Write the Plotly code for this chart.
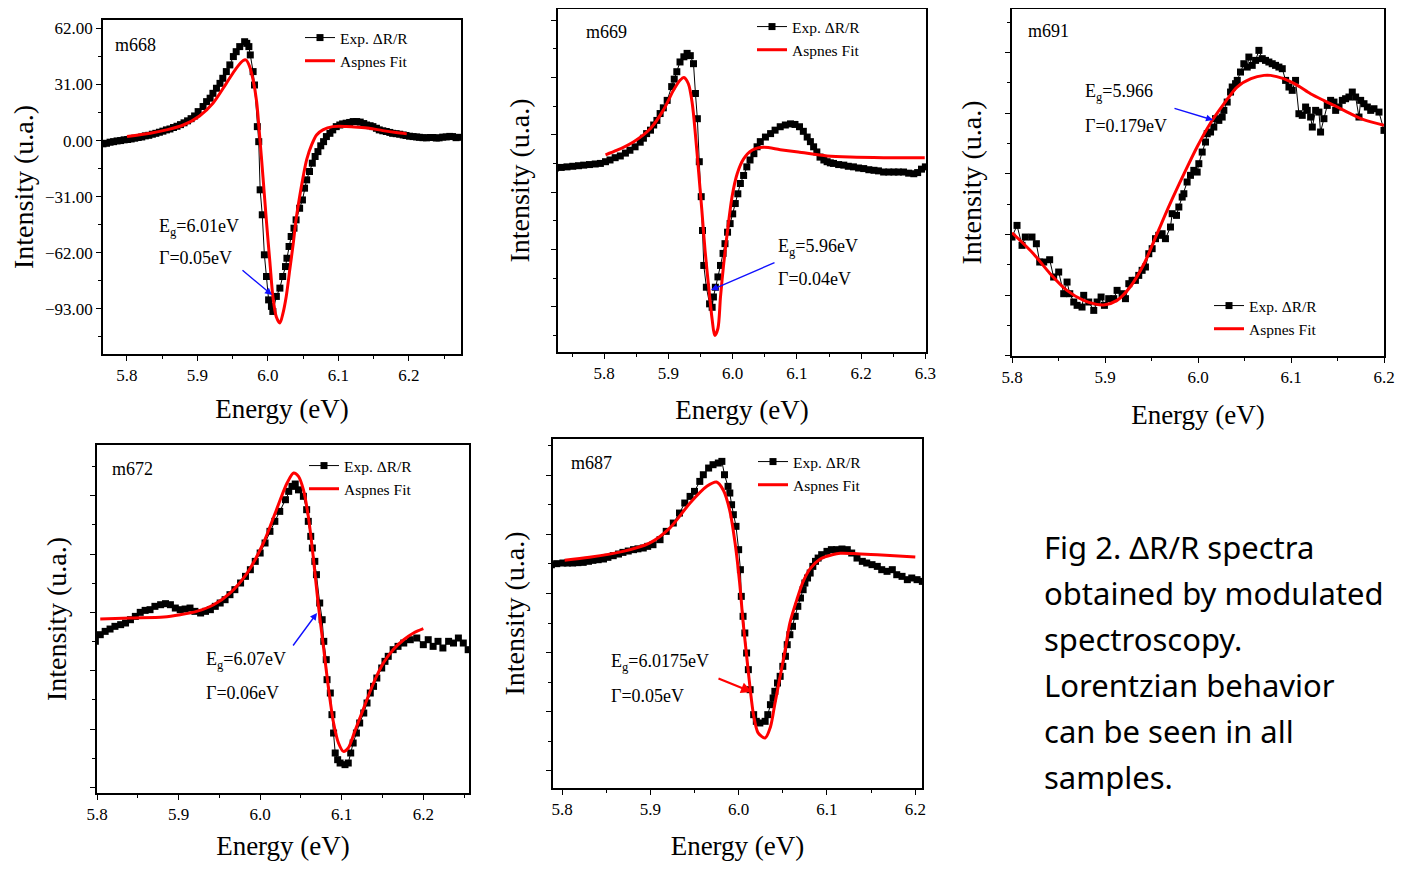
import plotly.graph_objects as go

# page has an 8px body margin: the figure is drawn 8px in from the window edge
PAGE_OFF = 8
WIN_W, WIN_H = 1413, 869
W, H = WIN_W - 2 * PAGE_OFF, WIN_H - 2 * PAGE_OFF

# ---------------- data ----------------
# m668
m668_exp_x = [5.766,5.771,5.776,5.781,5.786,5.791,5.796,5.801,5.806,5.811,5.816,5.821,5.826,5.831,5.836,5.841,5.846,5.851,5.856,5.861,5.866,5.871,5.876,5.881,5.886,5.891,5.896,5.901,5.908,5.913,5.918,5.922,5.927,5.932,5.936,5.941,5.946,5.951,5.955,5.960,5.967,5.970,5.973,5.975,5.979,5.981,5.985,5.987,5.989,5.992,5.995,5.998,6.001,6.005,6.007,6.012,6.017,6.021,6.025,6.027,6.030,6.033,6.037,6.040,6.045,6.049,6.052,6.055,6.059,6.063,6.067,6.071,6.075,6.079,6.083,6.088,6.092,6.097,6.102,6.106,6.111,6.116,6.121,6.126,6.131,6.136,6.140,6.145,6.149,6.154,6.158,6.163,6.168,6.173,6.177,6.182,6.187,6.192,6.196,6.201,6.206,6.211,6.215,6.220,6.225,6.230,6.234,6.239,6.243,6.248,6.253,6.258,6.262,6.267,6.272]
m668_exp_y = [-1.8,-1.5,-0.9,-0.6,-0.2,0.0,0.4,0.6,0.9,1.3,1.7,2.0,2.6,2.9,3.5,4.0,4.6,5.2,5.9,6.4,7.2,7.9,8.8,9.8,10.9,12.1,13.6,16.0,18.8,21.5,23.4,26.1,28.9,31.6,34.4,38.1,41.8,46.4,49.1,51.9,54.6,53.7,51.9,47.3,38.1,30.7,7.7,-0.6,-27.2,-41.0,-63.1,-75.1,-88.0,-91.6,-94.4,-86.1,-81.5,-75.1,-69.6,-65.0,-58.5,-53.0,-48.4,-43.8,-37.4,-32.8,-26.3,-21.7,-17.1,-12.5,-8.8,-6.1,-2.9,-0.6,2.2,4.0,5.9,7.7,8.6,9.2,9.6,10.0,10.5,10.5,10.2,9.4,8.6,8.2,7.7,6.8,5.9,5.4,5.0,4.5,4.0,3.8,3.5,3.1,2.8,2.4,2.2,2.0,1.8,1.6,1.5,1.7,1.7,1.4,1.5,1.9,2.0,2.3,2.2,1.6,1.8]
m668_fit_x = [5.800,5.833,5.856,5.880,5.903,5.922,5.941,5.955,5.965,5.969,5.974,5.979,5.984,5.988,5.993,5.998,6.003,6.007,6.012,6.017,6.021,6.026,6.031,6.036,6.040,6.045,6.050,6.055,6.062,6.069,6.078,6.092,6.111,6.128,6.144,6.163,6.182,6.197]
m668_fit_y = [2.2,4.0,5.9,8.6,13.6,20.6,31.6,39.9,44.2,44.5,41.0,33.5,21.5,4.0,-20.0,-45.0,-68.0,-86.0,-97.5,-100.8,-96.0,-86.1,-71.4,-56.7,-43.5,-31.0,-20.0,-10.5,-2.4,3.1,5.9,7.7,7.8,7.4,6.8,5.5,4.4,3.7]

# m669
m669_exp_x = [5.724,5.733,5.742,5.751,5.760,5.768,5.777,5.786,5.794,5.802,5.809,5.817,5.825,5.833,5.840,5.848,5.856,5.861,5.866,5.872,5.877,5.882,5.887,5.892,5.898,5.905,5.909,5.913,5.918,5.924,5.929,5.934,5.939,5.942,5.945,5.948,5.951,5.953,5.955,5.959,5.964,5.968,5.970,5.973,5.977,5.981,5.985,5.988,5.992,5.996,6.000,6.004,6.008,6.012,6.017,6.022,6.027,6.033,6.038,6.043,6.051,6.059,6.066,6.074,6.082,6.090,6.097,6.104,6.110,6.116,6.121,6.126,6.131,6.136,6.142,6.147,6.152,6.157,6.165,6.173,6.180,6.188,6.196,6.204,6.212,6.220,6.227,6.235,6.243,6.251,6.258,6.266,6.274,6.282,6.288,6.294,6.300]
m669_exp_y = [2.42,2.43,2.44,2.45,2.46,2.47,2.48,2.49,2.50,2.53,2.56,2.60,2.63,2.68,2.73,2.79,2.87,2.94,3.02,3.08,3.17,3.25,3.37,3.47,3.60,3.84,3.97,4.10,4.27,4.36,4.42,4.38,4.24,3.72,3.28,2.53,1.92,1.33,0.72,0.34,0.05,-0.01,0.17,0.34,0.52,0.72,0.93,1.10,1.30,1.45,1.62,1.80,1.97,2.15,2.29,2.44,2.56,2.67,2.79,2.88,2.96,3.02,3.08,3.14,3.17,3.19,3.18,3.14,3.06,2.96,2.88,2.79,2.70,2.61,2.56,2.53,2.51,2.50,2.48,2.47,2.45,2.44,2.42,2.41,2.39,2.38,2.37,2.35,2.35,2.35,2.35,2.35,2.33,2.32,2.34,2.40,2.44]
m669_fit_x = [5.802,5.820,5.846,5.872,5.892,5.908,5.918,5.924,5.931,5.937,5.942,5.947,5.952,5.957,5.963,5.968,5.972,5.977,5.981,5.986,5.992,5.999,6.007,6.017,6.030,6.048,6.074,6.102,6.147,6.183,6.235,6.299]
m669_fit_y = [2.65,2.73,2.88,3.11,3.43,3.78,3.95,4.00,3.89,3.55,3.00,2.35,1.68,0.98,0.30,-0.22,-0.50,-0.38,0.17,0.75,1.33,1.92,2.32,2.58,2.73,2.78,2.74,2.70,2.63,2.61,2.60,2.60]

# m691
m691_exp_x = [5.8000,5.8054,5.8108,5.8143,5.8215,5.8262,5.8298,5.8341,5.8405,5.8448,5.8502,5.8556,5.8592,5.8621,5.8664,5.8700,5.8753,5.8771,5.8825,5.8879,5.8915,5.8958,5.8994,5.9040,5.9094,5.9130,5.9184,5.9220,5.9256,5.9291,5.9327,5.9363,5.9399,5.9435,5.9471,5.9507,5.9543,5.9578,5.9614,5.9650,5.9704,5.9722,5.9769,5.9794,5.9830,5.9848,5.9883,5.9919,5.9955,5.9991,6.0009,6.0045,6.0081,6.0099,6.0135,6.0170,6.0188,6.0224,6.0260,6.0278,6.0314,6.0350,6.0368,6.0404,6.0422,6.0457,6.0493,6.0529,6.0547,6.0583,6.0619,6.0655,6.0691,6.0726,6.0762,6.0798,6.0834,6.0870,6.0906,6.0942,6.0978,6.1013,6.1049,6.1085,6.1121,6.1157,6.1175,6.1211,6.1229,6.1265,6.1300,6.1318,6.1354,6.1390,6.1426,6.1462,6.1480,6.1516,6.1552,6.1587,6.1623,6.1659,6.1695,6.1731,6.1749,6.1785,6.1821,6.1857,6.1892,6.1946,6.2000]
m691_exp_y = [0.956,1.148,0.819,0.956,0.956,0.846,0.544,0.544,0.582,0.297,0.379,0.022,0.214,0.022,-0.115,-0.170,-0.198,-0.005,-0.115,-0.253,-0.115,-0.033,-0.170,-0.060,-0.060,0.077,0.022,-0.060,0.187,0.242,0.242,0.324,0.407,0.462,0.681,0.764,0.929,0.984,1.011,0.929,1.121,1.341,1.313,1.451,1.615,1.670,1.863,1.973,2.055,2.027,2.165,2.357,2.522,2.659,2.687,2.769,2.907,2.879,2.934,3.044,3.181,3.346,3.429,3.484,3.538,3.676,3.813,3.758,3.923,3.786,3.868,4.033,3.896,3.868,3.841,3.813,3.786,3.758,3.731,3.538,3.429,3.374,3.538,2.989,2.962,3.099,3.044,2.934,2.769,3.044,3.016,2.687,2.907,3.126,3.209,3.181,3.044,3.099,3.209,3.236,3.264,3.346,3.264,2.934,3.209,3.154,3.099,3.044,3.071,3.016,2.714]
m691_fit_x = [5.800,5.823,5.841,5.859,5.877,5.891,5.900,5.913,5.927,5.942,5.956,5.970,5.985,5.999,6.013,6.028,6.042,6.057,6.071,6.078,6.092,6.107,6.121,6.135,6.150,6.164,6.178,6.200]
m691_fit_y = [1.027,0.681,0.352,0.077,-0.088,-0.154,-0.159,-0.088,0.132,0.516,1.011,1.505,2.000,2.440,2.824,3.154,3.429,3.566,3.621,3.621,3.566,3.456,3.319,3.209,3.099,2.989,2.890,2.797]

# m672
m672_exp_x = [5.798,5.804,5.810,5.816,5.822,5.829,5.835,5.841,5.847,5.853,5.859,5.865,5.871,5.878,5.884,5.890,5.896,5.902,5.908,5.914,5.920,5.927,5.933,5.939,5.945,5.951,5.957,5.963,5.969,5.976,5.982,5.988,5.994,6.000,6.006,6.012,6.018,6.024,6.031,6.035,6.039,6.043,6.047,6.053,6.057,6.059,6.062,6.064,6.067,6.069,6.073,6.076,6.078,6.081,6.082,6.086,6.088,6.090,6.092,6.095,6.098,6.104,6.108,6.111,6.114,6.118,6.122,6.127,6.131,6.135,6.139,6.143,6.149,6.153,6.157,6.163,6.169,6.176,6.184,6.192,6.200,6.206,6.212,6.218,6.224,6.231,6.237,6.243,6.249,6.255]
m672_exp_y = [2.503,2.617,2.674,2.714,2.760,2.789,2.817,2.874,2.931,3.000,3.034,3.046,3.103,3.131,3.149,3.131,3.074,3.046,3.057,3.074,3.017,2.989,3.017,3.046,3.103,3.160,3.217,3.303,3.389,3.503,3.617,3.731,3.874,4.017,4.189,4.389,4.560,4.731,4.931,5.074,5.160,5.200,5.100,4.989,4.760,4.560,4.303,4.103,3.874,3.646,3.160,2.874,2.503,2.189,1.846,1.617,1.246,0.931,0.589,0.474,0.417,0.389,0.417,0.589,0.760,0.931,1.103,1.274,1.446,1.617,1.731,1.874,2.046,2.160,2.246,2.360,2.417,2.474,2.531,2.560,2.446,2.531,2.417,2.503,2.389,2.503,2.474,2.560,2.474,2.360]
m672_fit_x = [5.804,5.841,5.882,5.902,5.922,5.943,5.963,5.984,6.004,6.020,6.033,6.041,6.047,6.053,6.059,6.065,6.071,6.078,6.084,6.090,6.096,6.102,6.108,6.116,6.127,6.139,6.151,6.163,6.176,6.188,6.200]
m672_fit_y = [2.886,2.903,2.920,2.960,3.017,3.131,3.331,3.674,4.189,4.760,5.217,5.389,5.331,5.103,4.646,3.960,3.160,2.360,1.674,1.103,0.760,0.617,0.674,0.960,1.360,1.789,2.131,2.360,2.531,2.646,2.720]

# m687
m687_exp_x = [5.788,5.794,5.801,5.806,5.812,5.818,5.824,5.830,5.835,5.841,5.847,5.852,5.858,5.864,5.869,5.875,5.881,5.886,5.892,5.897,5.903,5.911,5.918,5.926,5.933,5.939,5.945,5.950,5.956,5.960,5.966,5.971,5.977,5.981,5.984,5.988,5.990,5.992,5.994,5.997,6.000,6.002,6.003,6.005,6.007,6.009,6.011,6.013,6.017,6.020,6.024,6.030,6.033,6.036,6.039,6.041,6.044,6.047,6.050,6.053,6.055,6.058,6.061,6.064,6.067,6.070,6.073,6.075,6.078,6.081,6.084,6.087,6.090,6.094,6.100,6.105,6.111,6.117,6.123,6.128,6.134,6.140,6.145,6.151,6.157,6.162,6.168,6.174,6.179,6.185,6.191,6.196,6.202,6.208]
m687_exp_y = [3.488,3.505,3.516,3.516,3.516,3.522,3.527,3.545,3.561,3.572,3.584,3.612,3.640,3.668,3.696,3.719,3.742,3.756,3.770,3.798,3.826,3.911,4.052,4.193,4.362,4.532,4.644,4.729,4.898,5.011,5.124,5.181,5.209,5.237,5.011,4.814,4.701,4.503,4.334,4.137,3.742,3.403,2.951,2.613,2.331,1.992,1.710,1.371,0.948,0.835,0.807,0.835,0.948,1.117,1.230,1.343,1.484,1.597,1.766,1.936,2.133,2.302,2.444,2.613,2.782,2.923,3.064,3.177,3.262,3.346,3.459,3.544,3.600,3.657,3.713,3.742,3.742,3.753,3.742,3.685,3.600,3.544,3.516,3.488,3.459,3.403,3.375,3.403,3.318,3.290,3.234,3.262,3.234,3.205]
m687_fit_x = [5.803,5.831,5.869,5.899,5.922,5.945,5.964,5.975,5.983,5.990,5.996,6.001,6.005,6.009,6.013,6.017,6.022,6.030,6.036,6.041,6.047,6.053,6.058,6.066,6.073,6.081,6.092,6.107,6.115,6.134,6.157,6.200]
m687_fit_y = [3.561,3.612,3.713,3.854,4.108,4.532,4.814,4.887,4.740,4.400,3.850,3.200,2.520,1.950,1.390,0.930,0.640,0.553,0.740,1.130,1.597,2.070,2.500,2.900,3.200,3.420,3.580,3.660,3.680,3.674,3.657,3.617]

m668_ytick_vals = [-93, -62, -31, 0, 31, 62]

SERIF = "Liberation Serif"

# panel layout: window-pixel box (left, top, right, bottom), axis ranges
panels = [
    dict(name="m668", ex=m668_exp_x, ey=m668_exp_y, fx=m668_fit_x, fy=m668_fit_y,
         box=(103, 20, 461, 354), xr=[5.766, 6.274], yr=[-117.9, 66.6], ylab=True,
         lab=(113, 45), leg=(300, 37), eg="E<sub>g</sub>=6.01eV", gm="Γ=0.05eV", txt=(157, 226, 258),
         arrow=(272, 295, -31, -26), acol="#1010ff", xst=15, yst=21),
    dict(name="m669", ex=m669_exp_x, ey=m669_exp_y, fx=m669_fit_x, fy=m669_fit_y,
         box=(558, 9, 926, 352), xr=[5.728, 6.301], yr=[-0.79, 5.194], ylab=False,
         lab=(584, 32), leg=(752, 26), eg="E<sub>g</sub>=5.96eV", gm="Γ=0.04eV", txt=(776, 246, 279),
         arrow=(711, 290, 65, -28), acol="#1010ff", xst=18, yst=13),
    dict(name="m691", ex=m691_exp_x, ey=m691_exp_y, fx=m691_fit_x, fy=m691_fit_y,
         box=(1012, 9, 1384, 356), xr=[5.8, 6.2], yr=[-1.005, 4.715], ylab=False,
         lab=(1026, 31), leg=(1209, 305), eg="E<sub>g</sub>=5.966", gm="Γ=0.179eV", txt=(1083, 92, 126),
         arrow=(1213, 120, -40, -12), acol="#1010ff", xst=19, yst=15),
    dict(name="m672", ex=m672_exp_x, ey=m672_exp_y, fx=m672_fit_x, fy=m672_fit_y,
         box=(97, 445, 469, 793), xr=[5.8, 6.256], yr=[-0.097, 5.869], ylab=False,
         lab=(110, 469), leg=(304, 465), eg="E<sub>g</sub>=6.07eV", gm="Γ=0.06eV", txt=(204, 659, 693),
         arrow=(317, 613, -25, 34), acol="#1010ff", xst=25, yst=15),
    dict(name="m687", ex=m687_exp_x, ey=m687_exp_y, fx=m687_fit_x, fy=m687_fit_y,
         box=(553, 439, 922, 788), xr=[5.7898, 6.2076], yr=[-0.294, 5.616], ylab=False,
         lab=(569, 463), leg=(753, 461), eg="E<sub>g</sub>=6.0175eV", gm="Γ=0.05eV", txt=(609, 661, 696),
         arrow=(752, 692, -35, -14), acol="#ff0000", xst=19, yst=13),
]

caption_lines = ["Fig 2. ΔR/R spectra", "obtained by modulated", "spectroscopy.",
                 "Lorentzian behavior", "can be seen in all", "samples."]


def px(x):
    return min(1.0, max(0.0, (x - PAGE_OFF) / W))


def py(y):
    return min(1.0, max(0.0, 1 - (y - PAGE_OFF) / H))


fig = go.Figure()
layout = dict(width=W, height=H, margin=dict(l=0, r=0, t=0, b=0, autoexpand=False),
              paper_bgcolor="white", plot_bgcolor="white", showlegend=True)
annotations = []

for i, p in enumerate(panels, start=1):
    xs = "" if i == 1 else str(i)
    legname = "legend" if i == 1 else f"legend{i}"
    L, T, R, B = p["box"]
    dx = [px(L), px(R)]
    dy = [py(B), py(T)]

    fig.add_trace(go.Scatter(
        x=p["ex"], y=p["ey"], mode="lines+markers", name="Exp. ΔR/R",
        line=dict(color="black", width=1),
        marker=dict(symbol="square", size=7, color="black"),
        xaxis=f"x{xs}", yaxis=f"y{xs}", legend=legname))
    fig.add_trace(go.Scatter(
        x=p["fx"], y=p["fy"], mode="lines", name="Aspnes Fit",
        line=dict(color="#ff0000", width=3, shape="spline", smoothing=0.8),
        xaxis=f"x{xs}", yaxis=f"y{xs}", legend=legname))

    tickfont = dict(family=SERIF, size=17, color="black")
    xa = dict(domain=dx, range=p["xr"], anchor=f"y{xs}", showgrid=False, zeroline=False,
              automargin=False,
              showline=True, mirror=True, linecolor="black", linewidth=1.6,
              ticks="outside", ticklen=5, tickwidth=1.3, tickcolor="black",
              tickmode="linear", tick0=5.8, dtick=0.1, tickformat=".1f", tickfont=tickfont,
              minor=dict(ticks="outside", ticklen=3, tickwidth=1.1, tickcolor="black", dtick=0.05, tick0=5.8),
              title=dict(text="Energy (eV)", font=dict(family=SERIF, size=27, color="black"), standoff=p["xst"]))
    ya = dict(domain=dy, range=p["yr"], anchor=f"x{xs}", showgrid=False, zeroline=False,
              automargin=False,
              showline=True, mirror=True, linecolor="black", linewidth=1.6,
              ticks="outside", ticklen=5, tickwidth=1.3, tickcolor="black",
              tickfont=tickfont,
              title=dict(text="Intensity (u.a.)", font=dict(family=SERIF, size=28, color="black"),
                         standoff=p["yst"]))
    if p["ylab"]:
        ya.update(tickmode="array", tickvals=m668_ytick_vals, tickformat=".2f",
                  minor=dict(ticks="outside", ticklen=3, tickwidth=1.1, tickcolor="black", dtick=15.5, tick0=0))
    else:
        ya.update(tickmode="linear", tick0=0, dtick=1, showticklabels=False,
                  minor=dict(ticks="outside", ticklen=3, tickwidth=1.1, tickcolor="black", dtick=0.5, tick0=0))
    layout[f"xaxis{xs}"] = xa
    layout[f"yaxis{xs}"] = ya

    # inside ticks on top and right
    j = i + 5
    xt = dict(overlaying=f"x{xs}", anchor=f"y{xs}", side="top", range=p["xr"], showgrid=False,
              zeroline=False, showline=False, showticklabels=False, automargin=False,
              ticks="inside", ticklen=5, tickwidth=1.3, tickcolor="black",
              tickmode="linear", tick0=5.8, dtick=0.1,
              minor=dict(ticks="inside", ticklen=3, tickwidth=1.1, tickcolor="black", dtick=0.05, tick0=5.8))
    yt = dict(overlaying=f"y{xs}", anchor=f"x{xs}", side="right", range=p["yr"], showgrid=False,
              zeroline=False, showline=False, showticklabels=False, automargin=False,
              ticks="inside", ticklen=5, tickwidth=1.3, tickcolor="black")
    if p["ylab"]:
        yt.update(tickmode="array", tickvals=m668_ytick_vals,
                  minor=dict(ticks="inside", ticklen=3, tickwidth=1.1, tickcolor="black", dtick=15.5, tick0=0))
    else:
        yt.update(tickmode="linear", tick0=0, dtick=1,
                  minor=dict(ticks="inside", ticklen=3, tickwidth=1.1, tickcolor="black", dtick=0.5, tick0=0))
    layout[f"xaxis{j}"] = xt
    layout[f"yaxis{j}"] = yt

    # legend
    lx, ly = p["leg"]
    layout[legname] = dict(x=px(lx), y=py(ly - 16), xanchor="left", yanchor="top",
                           bgcolor="rgba(0,0,0,0)", borderwidth=0,
                           font=dict(family=SERIF, size=15.5, color="black"))

    # sample label
    annotations.append(dict(text=p["name"], x=px(p["lab"][0]), y=py(p["lab"][1]), xref="paper", yref="paper",
                            xanchor="left", yanchor="middle", showarrow=False,
                            font=dict(family=SERIF, size=18, color="black")))
    tx, ty1, ty2 = p["txt"]
    annotations.append(dict(text=p["eg"], x=px(tx), y=py(ty1 + 1), xref="paper", yref="paper",
                            xanchor="left", yanchor="middle", showarrow=False,
                            font=dict(family=SERIF, size=18, color="black")))
    annotations.append(dict(text=p["gm"], x=px(tx), y=py(ty2), xref="paper", yref="paper",
                            xanchor="left", yanchor="middle", showarrow=False,
                            font=dict(family=SERIF, size=18, color="black")))
    hx, hy, ax, ay = p["arrow"]
    annotations.append(dict(text="", x=px(hx), y=py(hy), xref="paper", yref="paper",
                            ax=ax, ay=ay, axref="pixel", ayref="pixel", showarrow=True,
                            arrowhead=2, arrowsize=1, arrowwidth=2.2 if p["acol"] == "#ff0000" else 1.4,
                            arrowcolor=p["acol"], standoff=0))

for k, line in enumerate(caption_lines):
    annotations.append(dict(text=line, x=px(1042), y=py(547 + 46 * k), xref="paper", yref="paper",
                            xanchor="left", yanchor="middle", showarrow=False,
                            font=dict(family="Noto Sans", size=31, color="black")))

layout["annotations"] = annotations
fig.update_layout(**layout)
fig.write_html("out.html")
